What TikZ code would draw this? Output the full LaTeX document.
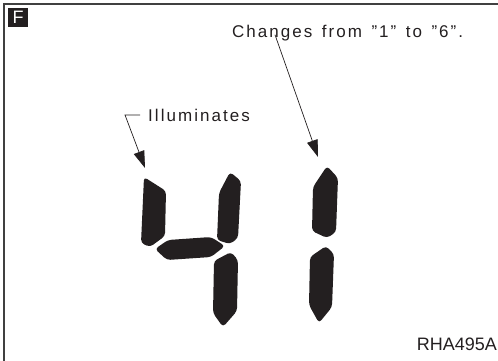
\documentclass[tikz,border=0pt]{standalone}
\usepackage{fontspec}
\setmainfont{Liberation Sans}
\newfontfamily\labelfont[LetterSpace=12,WordSpace=1.4]{Liberation Sans}
\usetikzlibrary{arrows.meta,calc}
\definecolor{ink}{HTML}{231F20}

\begin{document}
\begin{tikzpicture}[x=1pt,y=-1pt,
  every node/.style={inner sep=0pt,text=ink},
  caption/.style={anchor=base west,font=\labelfont\fontsize{17}{17}\selectfont},
  leader/.style={draw=ink,line width=.7pt,-{Triangle[length=17pt,width=11pt]}},
  segment/.style={fill=ink,rounded corners=3.5pt}
]
\useasboundingbox (0,0) rectangle (498,360);
\draw[draw=black!75,line width=2pt] (4,4) rectangle (504,366);

\node[fill=ink,text=white,minimum width=20pt,minimum height=19pt,
      font=\fontsize{18}{18}\selectfont] (tag) at (18,17.5) {F};

\node[caption] (changes) at (232,37) {Changes from ”1” to ”6”.};
\node[caption] (illum) at (148,121) {Illuminates};
\node[anchor=base east,font=\fontsize{18}{18}\selectfont] (code) at (497,350) {RHA495A};

% digit "4"
\fill[segment] (144,177) -- (166,191) -- (165,236) -- (150,247) -- (141,243) -- cycle;
\fill[segment] (230,172) -- (241,181) -- (238,238) -- (230,244) -- (217,240) -- (219,193) -- cycle;
\fill[segment] (155,249) -- (168,240) -- (211,237) -- (225,246) -- (211,257) -- (167,260) -- cycle;
\fill[segment] (231,252) -- (238,260) -- (237,311) -- (223,327) -- (213,313) -- (214,261) -- cycle;
% digit "1"
\fill[segment] (327,166) -- (338,178) -- (336,232) -- (327,238) -- (312,231) -- (313,187) -- cycle;
\fill[segment] (326,246) -- (334,254) -- (332,307) -- (319,323) -- (309,305) -- (310,257) -- cycle;

\coordinate (litA) at (145,168);
\coordinate (litB) at (318,157);
\draw[leader] ([xshift=-8pt]illum.west) -- ++(-15,0) -- (litA);
\draw[leader] ([xshift=43pt,yshift=6pt]changes.south west) -- (litB);
\end{tikzpicture}
\end{document}
